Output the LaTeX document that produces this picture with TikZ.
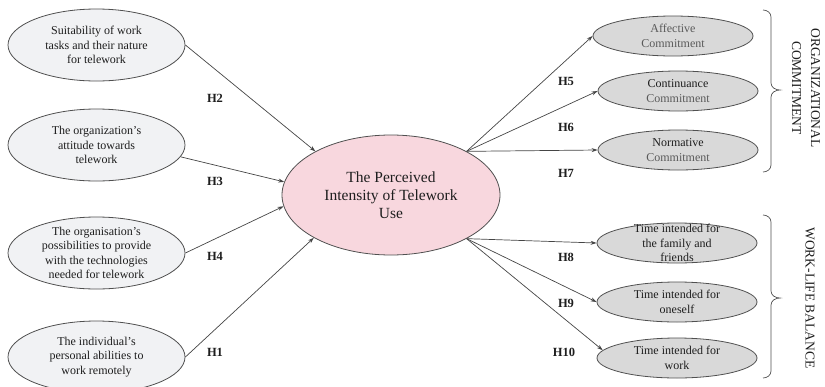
\documentclass[tikz,border=0pt]{standalone}
\usepackage{fontspec}
\setmainfont{Liberation Serif}
\usetikzlibrary{shapes.geometric,arrows.meta}
\definecolor{edgec}{HTML}{505050}
\definecolor{arrc}{HTML}{454545}
\definecolor{lfill}{HTML}{F1F2F4}
\definecolor{rfill}{HTML}{D9D9D9}
\definecolor{cfill}{HTML}{F8D7DE}
\definecolor{txtc}{HTML}{1E1E1E}
\definecolor{greyt}{HTML}{5A5A5A}
\begin{document}
\begin{tikzpicture}[x=1pt,y=-1pt,
  oval/.style={ellipse,draw=edgec,line width=0.8pt,inner sep=0pt},
  lov/.style={oval,fill=lfill,minimum width=177pt,minimum height=72pt},
  rov/.style={oval,fill=rfill,minimum width=160pt,minimum height=40pt},
  cov/.style={oval,fill=cfill,minimum width=218pt,minimum height=120pt},
  txt/.style={align=center,font=\fontsize{12}{14.5}\selectfont,text=txtc,inner sep=0pt},
  ctxt/.style={align=center,font=\fontsize{15.5}{18}\selectfont,text=txtc,inner sep=0pt},
  hyp/.style={font=\bfseries\fontsize{12.5}{15}\selectfont,text=txtc,inner sep=0pt},
  arr/.style={draw=arrc,line width=0.7pt,-{Stealth[length=6pt,width=4pt]}},
  grp/.style={font=\fontsize{13.5}{19}\selectfont,align=center,rotate=-90,text=txtc,inner sep=0pt},
  brc/.style={draw=edgec,line width=0.7pt}
]
\useasboundingbox (0,0) rectangle (825,386);

% central
\node[cov] (c) at (391,195) {};
\node[ctxt] (ct) at (c) {The Perceived\\Intensity of Telework\\Use};

% left
\node[lov] (l1) at (96.5,45) {};
\node[txt] (l1t) at (l1) {Suitability of work\\tasks and their nature\\for telework};
\node[lov] (l2) at (96.5,145) {};
\node[txt] (l2t) at (l2) {The organization's\\attitude towards\\telework};
\node[lov] (l3) at (96.5,253) {};
\node[txt] (l3t) at (l3) {The organisation's\\possibilities to provide\\with the technologies\\needed for telework};
\node[lov] (l4) at (96.5,357) {};
\node[txt] (l4t) at (l4) {The individual's\\personal abilities to\\work remotely};

% right
\node[rov] (r1) at (673,36) {};
\node[txt] (r1t) at (r1) {\textcolor{greyt}{Affective}\\\textcolor{greyt}{Commitment}};
\node[rov] (r2) at (678,91) {};
\node[txt] (r2t) at (r2) {Continuance\\\textcolor{greyt}{Commitment}};
\node[rov] (r3) at (678,150) {};
\node[txt] (r3t) at (r3) {Normative\\\textcolor{greyt}{Commitment}};
\node[rov] (r4) at (677,243) {};
\node[txt] (r4t) at (r4) {Time intended for\\the family and\\friends};
\node[rov] (r5) at (677,302) {};
\node[txt] (r5t) at (r5) {Time intended for\\oneself};
\node[rov] (r6) at (677,358) {};
\node[txt] (r6t) at (r6) {Time intended for\\work};

% arrows in
\draw[arr] (l1.east) -- (c.150);
\draw[arr] (l2.-8) -- (c.173);
\draw[arr] (l3.east) -- (c.186);
\draw[arr] (l4.east) -- (c.209);

% arrows out
\draw[arr] (c.30) -- (r1.west);
\draw[arr] (c.30) -- (r2.west);
\draw[arr] (c.30) -- (r3.west);
\draw[arr] (c.-30) -- (r4.west);
\draw[arr] (c.-30) -- (r5.west);
\draw[arr] (c.-30) -- (r6.174);

% hypothesis labels
\node[hyp] (h2) at (215,98) {H2};
\node[hyp] (h3) at (215,181) {H3};
\node[hyp] (h4) at (215,256) {H4};
\node[hyp] (h1) at (215,352) {H1};
\node[hyp] (h5) at (566,81) {H5};
\node[hyp] (h6) at (566,127) {H6};
\node[hyp] (h7) at (566,173) {H7};
\node[hyp] (h8) at (566,257) {H8};
\node[hyp] (h9) at (566,303) {H9};
\node[hyp] (h10) at (564,352) {H10};

% braces
\draw[brc] (763,10) to[out=0,in=90] (771,17) -- (771,83) to[out=-90,in=180] (780,90)
  to[out=180,in=90] (771,97) -- (771,165) to[out=-90,in=0] (763,172);
\draw[brc] (763,215) to[out=0,in=90] (771,222) -- (771,291) to[out=-90,in=180] (780,298)
  to[out=180,in=90] (771,305) -- (771,371) to[out=-90,in=0] (763,378);

% group labels
\node[grp] (g1) at (806,88) {ORGANIZATIONAL\\COMMITMENT};
\node[grp] (g2) at (810,298) {WORK-LIFE BALANCE};
\end{tikzpicture}
\end{document}
